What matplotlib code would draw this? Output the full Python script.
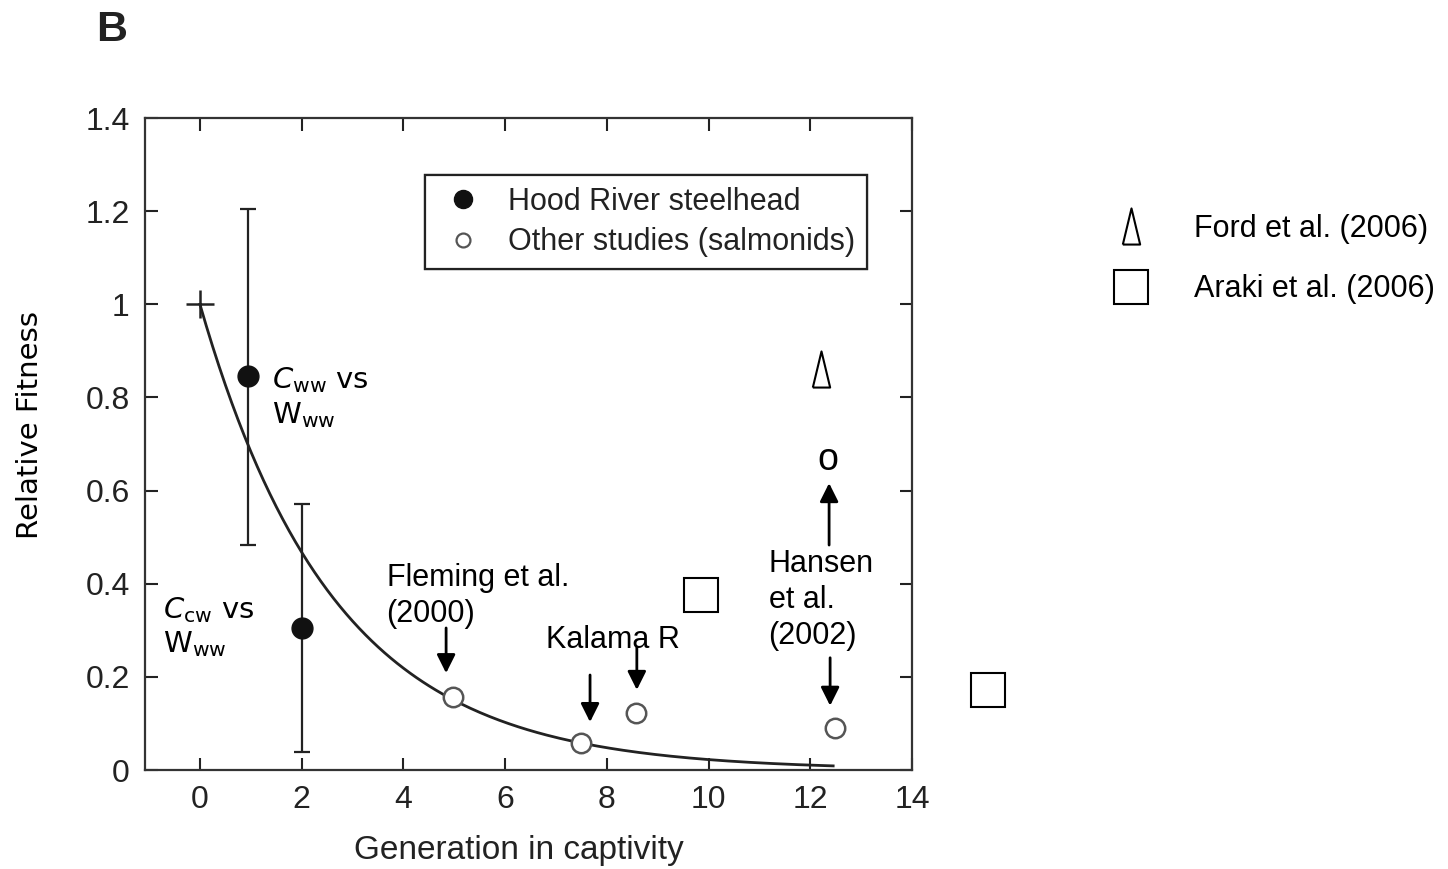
import numpy as np
import matplotlib
matplotlib.use("Agg")
import matplotlib.pyplot as plt
from matplotlib.lines import Line2D

plt.rcParams['font.family'] = ['Liberation Sans', 'DejaVu Sans']
plt.rcParams['mathtext.fontset'] = 'dejavusans'

# Hood River steelhead (filled) with error bars
hood_x = [0.95, 2.0]
hood_y = [0.845, 0.305]
hood_lo = [0.483, 0.039]
hood_hi = [1.205, 0.571]

# other studies (open circles)
other_x = [4.97, 7.5, 8.57, 12.48]
other_y = [0.157, 0.058, 0.122, 0.09]

# fitted decay curve  y = exp(-k * gen)
decay_k = 0.38
curve_end = 12.45

# extra markers: Ford (triangle), Araki (squares)
ford_x, ford_y = [12.22], [0.86]
araki_x = [9.86, 15.5]
araki_y = [0.376, 0.172]

xticks = [0, 2, 4, 6, 8, 10, 12, 14]
yticks = [0, 0.2, 0.4, 0.6, 0.8, 1.0, 1.2, 1.4]
ytick_labels = ['0', '0.2', '0.4', '0.6', '0.8', '1', '1.2', '1.4']

tri = [(-0.24, -0.5), (0.24, -0.5), (0.0, 0.5), (-0.24, -0.5)]

fig = plt.figure(figsize=(14.48, 8.69), dpi=100)
ax = fig.add_axes([145 / 1448, 1 - 770 / 869, 767 / 1448, 652 / 869])

gx = np.linspace(0, curve_end, 200)
ax.plot(gx, np.exp(-decay_k * gx), color='#222222', lw=2.0, zorder=2)
ax.plot([0], [1], marker='+', ms=20, mew=1.8, color='#222222', zorder=3)

err = [np.array(hood_y) - np.array(hood_lo), np.array(hood_hi) - np.array(hood_y)]
ax.errorbar(hood_x, hood_y, yerr=err, fmt='o', ms=15, color='#111111',
            ecolor='#222222', elinewidth=1.6, capsize=6, capthick=1.6, zorder=4)
ax.plot(other_x, other_y, 'o', ms=14, mfc='white', mec='#555555', mew=1.8, zorder=4)

ax.plot(ford_x, ford_y, marker=tri, ms=26, mfc='white', mec='black', mew=1.5,
        ls='none', clip_on=False)
ax.plot(araki_x, araki_y, marker='s', ms=24, mfc='white', mec='black', mew=1.5,
        ls='none', clip_on=False)

ax.set_xlim(-1.08, 14)
ax.set_ylim(0, 1.4)
ax.set_xticks(xticks)
ax.set_yticks(yticks)
ax.set_yticklabels(ytick_labels)
ax.tick_params(direction='in', length=9, width=1.5, top=True, right=True,
               labelsize=23, pad=11, colors='#222222')
for s in ax.spines.values():
    s.set_linewidth(1.6)
    s.set_color('#333333')

# legend inside
h1 = Line2D([], [], ls='none', marker='o', ms=13, color='#111111')
h2 = Line2D([], [], ls='none', marker='o', ms=10, mfc='white', mec='#555555', mew=1.6)
leg = ax.legend([h1, h2], ['Hood River steelhead', 'Other studies (salmonids)'],
                loc='upper left', bbox_to_anchor=(425 / 1448, 1 - 175 / 869),
                bbox_transform=fig.transFigure, borderaxespad=0, fontsize=22,
                fancybox=False, edgecolor='#222222', framealpha=1,
                handlelength=1.7, handletextpad=0.65, borderpad=0.38, labelspacing=0.35)
leg.get_frame().set_linewidth(1.6)
for t in leg.get_texts():
    t.set_color('#222222')
ax.add_artist(leg)

# legend on the right
f1 = Line2D([], [], ls='none', marker=tri, ms=26, mfc='white', mec='black', mew=1.5)
f2 = Line2D([], [], ls='none', marker='s', ms=24, mfc='white', mec='black', mew=1.5)
leg2 = fig.legend([f1, f2], ['Ford et al. (2006)', 'Araki et al. (2006)'],
                  loc='center left', bbox_to_anchor=(1108 / 1448, 1 - 259 / 869),
                  borderaxespad=0, borderpad=0, frameon=False, fontsize=22,
                  handlelength=1.5, handletextpad=1.3, labelspacing=1.0)

# annotations
txt = dict(fontsize=22, ha='left', va='center', linespacing=1.25)
ax.text(3.67, 0.374, 'Fleming et al.\n(2000)', **txt)
ax.text(6.80, 0.279, 'Kalama R', **txt)
ax.text(11.18, 0.365, 'Hansen\net al.\n(2002)', **txt)
ax.text(12.35, 0.666, 'o', fontsize=27, ha='center', va='center')

arr = dict(arrowstyle='-|>', color='black', lw=2.0, mutation_scale=28,
           shrinkA=0, shrinkB=0)
ax.annotate('', xy=(4.84, 0.208), xytext=(4.84, 0.305), arrowprops=arr)
ax.annotate('', xy=(7.67, 0.103), xytext=(7.67, 0.204), arrowprops=arr)
ax.annotate('', xy=(8.59, 0.172), xytext=(8.59, 0.264), arrowprops=arr)
ax.annotate('', xy=(12.39, 0.138), xytext=(12.39, 0.241), arrowprops=arr)
ax.annotate('', xy=(12.37, 0.616), xytext=(12.37, 0.483), arrowprops=arr)

ctxt = dict(fontsize=21, family='DejaVu Sans', ha='left', va='center', linespacing=1.2)
ax.text(1.41, 0.80, '$C_{\\mathrm{ww}}$ vs\nW$_{\\mathrm{ww}}$', **ctxt)
ax.text(-0.73, 0.307, '$C_{\\mathrm{cw}}$ vs\nW$_{\\mathrm{ww}}$', **ctxt)

fig.text(30 / 1448, 1 - 425 / 869, 'Relative Fitness', rotation=90, fontsize=21,
         family='DejaVu Sans', ha='center', va='center')
fig.text(519 / 1448, 1 - 850 / 869, 'Generation in captivity', fontsize=24,
         ha='center', va='center', color='#222222')
fig.text(112 / 1448, 1 - 30 / 869, 'B', fontsize=31, fontweight='bold',
         ha='center', va='center', color='#222222')

fig.savefig('out.png', dpi=100)
